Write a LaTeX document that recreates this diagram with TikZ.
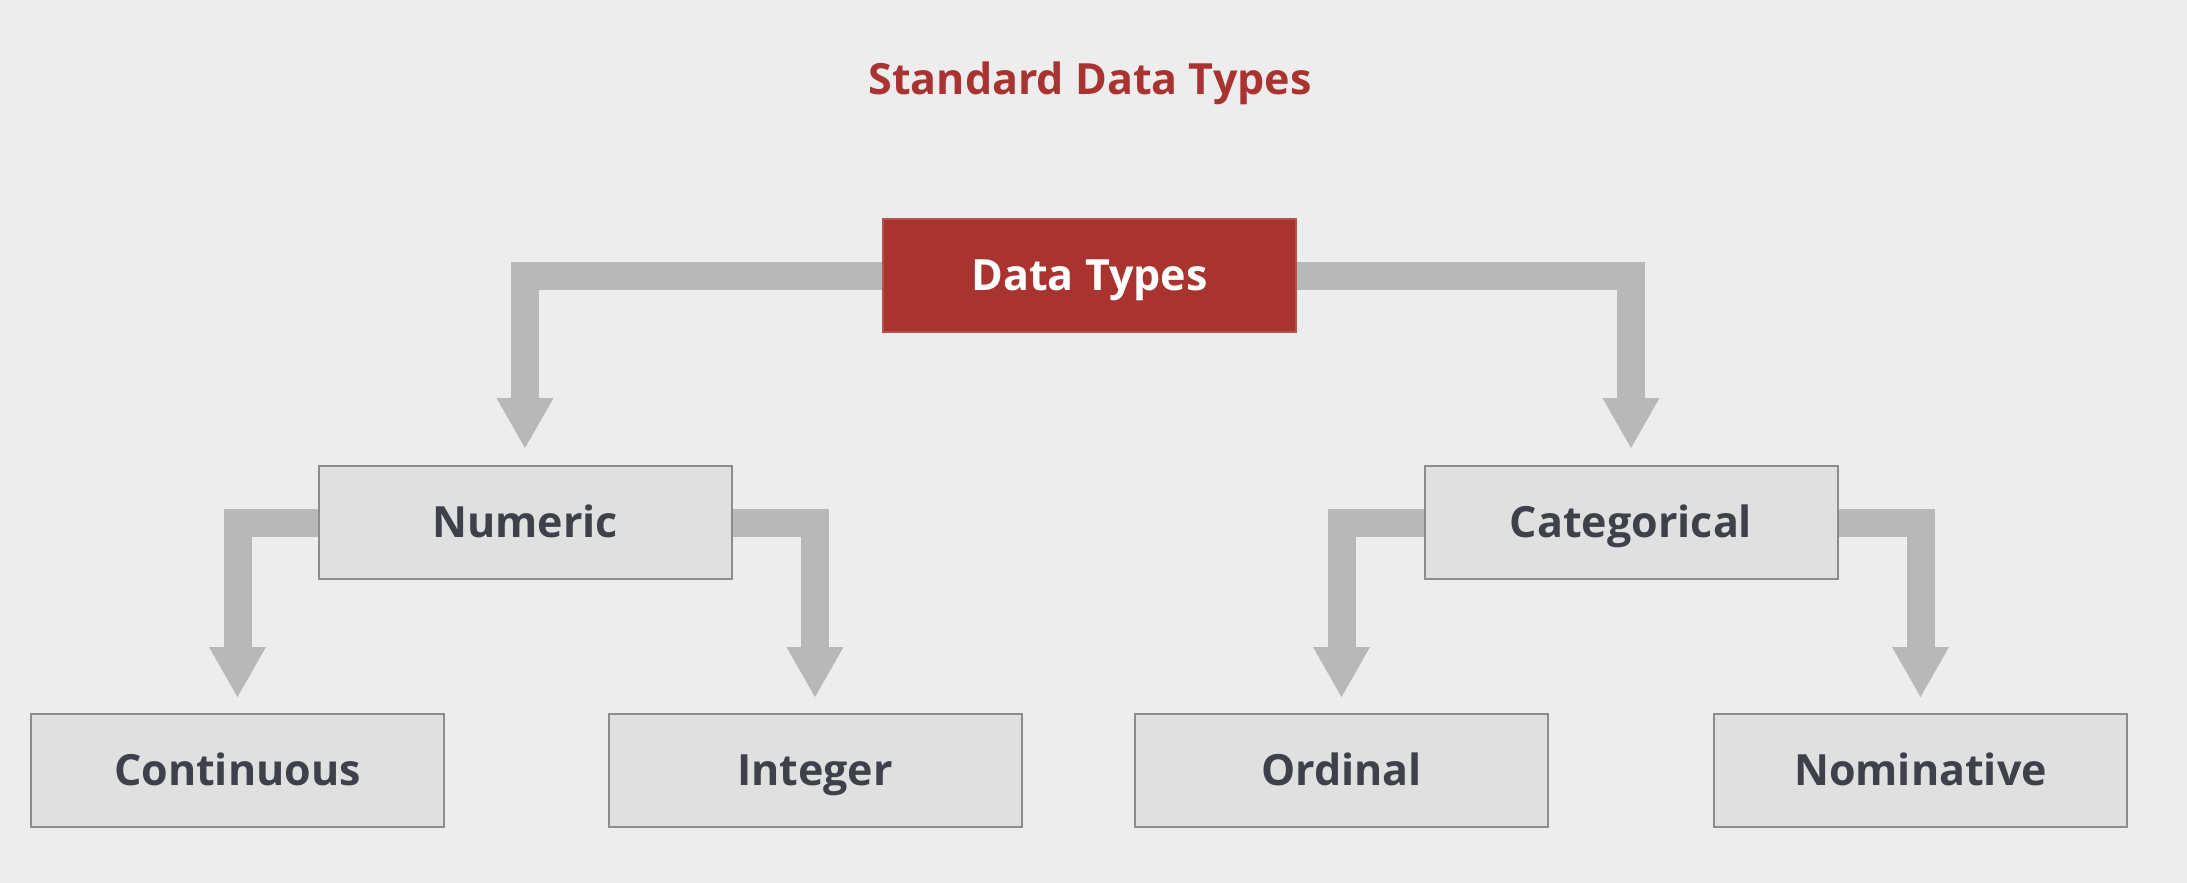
\documentclass[tikz,border=0pt]{standalone}
\usepackage{fontspec}
\setmainfont{Open Sans}
\usetikzlibrary{arrows.meta,backgrounds}
\definecolor{bgcol}{HTML}{EDEDED}
\definecolor{boxfill}{HTML}{E0E0E0}
\definecolor{boxline}{HTML}{8C8C8C}
\definecolor{redbox}{HTML}{A8332F}
\definecolor{titlered}{HTML}{A83330}
\definecolor{txtcol}{HTML}{3E4149}
\definecolor{barcol}{HTML}{B8B8B8}
\tikzset{
  lbl/.style={font=\fontsize{43}{43}\selectfont\bfseries, text height=30.7pt, text depth=0pt},
  leaf/.style={lbl, rectangle, draw=boxline, line width=2pt, fill=boxfill,
    minimum width=413pt, minimum height=113pt, inner sep=0pt, text=txtcol},
  rootbox/.style={leaf, fill=redbox, draw=redbox!85!white, text=white},
  bar/.style={draw=barcol, line width=28pt, line join=miter,
    -{Triangle[width=57pt,length=50pt,line width=0pt]}},
}
\begin{document}
\begin{tikzpicture}[x=1pt,y=-1pt]
\useasboundingbox (0,0) rectangle (2187,883);
\node[lbl, inner sep=0pt, text=titlered] (title) at (1090,79.5) {Standard Data Types};
\node[rootbox] (dt) at (1089.5,275.5) {Data Types};
\node[leaf] (num) at (525,522.5) {Numeric};
\node[leaf] (cat) at (1631,522.5) {Categorical};
\node[leaf] (cont) at (237.5,770.5) {Continuous};
\node[leaf] (int) at (815,770.5) {Integer};
\node[leaf] (ord) at (1341.5,770.5) {Ordinal};
\node[leaf] (nom) at (1920.5,770.5) {Nominative};
\begin{scope}[on background layer]
\fill[bgcol] (0,0) rectangle (2187,883);
\draw[bar, shorten >=17pt] (dt.west) -| (num.north);
\draw[bar, shorten >=17pt] (dt.east) -| (cat.north);
\draw[bar, shorten >=16pt] (num.west) -| (cont.north);
\draw[bar, shorten >=16pt] (num.east) -| (int.north);
\draw[bar, shorten >=16pt] (cat.west) -| (ord.north);
\draw[bar, shorten >=16pt] (cat.east) -| (nom.north);
\end{scope}
\end{tikzpicture}
\end{document}
